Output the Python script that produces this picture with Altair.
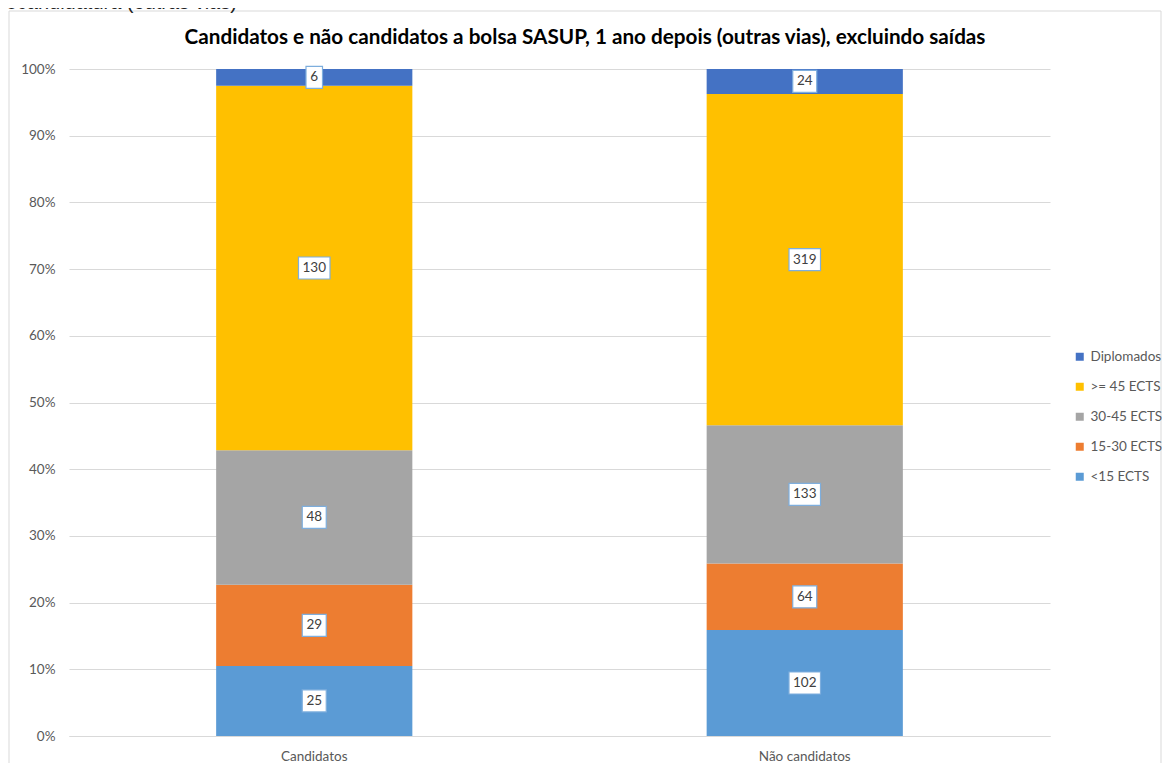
import altair as alt
import pandas as pd

categories = ["Candidatos", "Não candidatos"]
series = ["<15 ECTS", "15-30 ECTS", "30-45 ECTS", ">= 45 ECTS", "Diplomados"]
candidatos = [25, 29, 48, 130, 6]
nao_candidatos = [102, 64, 133, 319, 24]
colors = ["#5B9BD5", "#ED7D31", "#A5A5A5", "#FFC000", "#4472C4"]
y_ticks = [0, 0.1, 0.2, 0.3, 0.4, 0.5, 0.6, 0.7, 0.8, 0.9, 1.0]
title_text = "Candidatos e não candidatos a bolsa SASUP, 1 ano depois (outras vias), excluindo saídas"
top_text = "recandidatura (outras vias)"

rows = []
for cat, vals in zip(categories, [candidatos, nao_candidatos]):
    for i, (s, v) in enumerate(zip(series, vals)):
        rows.append({"cat": cat, "series": s, "value": v, "order": i})
df = pd.DataFrame(rows)

GRID = "#d9d9d9"
LABEL = "#595959"

base = alt.Chart(df).transform_stack(
    stack="value", groupby=["cat"], as_=["y0", "y1"], offset="normalize",
    sort=[alt.SortField("order", order="ascending")]
).transform_calculate(
    mid="(datum.y0 + datum.y1) / 2",
    w="7.5 * length(toString(datum.value)) + 9",
).transform_calculate(
    box="'M' + (-datum.w/2) + ',-11h' + datum.w + 'v22h' + (-datum.w) + 'z'"
)

x_enc = alt.X(
    "cat:N", sort=categories, title=None,
    scale=alt.Scale(paddingInner=0.6, paddingOuter=0.3),
    axis=alt.Axis(labelAngle=0, ticks=False, domain=True, domainColor=GRID,
                  labelFont="Lato", labelFontSize=13.5, labelColor=LABEL,
                  labelPadding=13),
)
y_scale = alt.Scale(domain=[0, 1])

bars = base.mark_bar().encode(
    x=x_enc,
    y=alt.Y("y0:Q", scale=y_scale, title=None,
            axis=alt.Axis(values=y_ticks, format=".0%", grid=True, gridColor=GRID,
                          domain=False, ticks=False, labelPadding=14,
                          labelFont="Lato", labelFontSize=13.5, labelColor=LABEL)),
    y2="y1:Q",
    color=alt.Color(
        "series:N",
        scale=alt.Scale(domain=series[::-1], range=colors[::-1]),
        legend=alt.Legend(title=None, orient="none", legendX=1004, legendY=281,
                          symbolType="square", symbolSize=64, symbolStrokeWidth=0,
                          labelFont="Lato", labelFontSize=13.5, labelColor=LABEL,
                          rowPadding=15, labelOffset=4),
    ),
)

boxes = base.mark_point(filled=True, fill="white", stroke="#7EAEDD", strokeWidth=1.2,
                        size=4, opacity=1, fillOpacity=1).encode(
    x=alt.X("cat:N", sort=categories),
    y=alt.Y("mid:Q", scale=y_scale),
    shape=alt.Shape("box:N", scale=None),
)

labels = base.mark_text(font="Lato", fontSize=13.5, color="#404040", baseline="middle").encode(
    x=alt.X("cat:N", sort=categories),
    y=alt.Y("mid:Q", scale=y_scale),
    text="value:Q",
)

one = pd.DataFrame({"t": [title_text], "u": [top_text]})

frame = alt.Chart(one).mark_rect(fillOpacity=0, stroke=GRID, strokeWidth=1).encode(
    x=alt.value(-60), x2=alt.value(1092), y=alt.value(-58), y2=alt.value(720)
)

title = alt.Chart(one).mark_text(font="Lato", fontSize=20.7, fontWeight="bold",
                                 color="#000000", align="center",
                                 baseline="alphabetic").encode(
    text="t:N", x=alt.value(516), y=alt.value(-25)
)

top = alt.Chart(one).mark_text(font="Liberation Sans", fontSize=20, color="#222222",
                               align="left", baseline="alphabetic").encode(
    text="u:N", x=alt.value(-70), y=alt.value(-60)
)

chart = alt.layer(frame, bars, boxes, labels, title, top).properties(
    width=981, height=667,
    autosize=alt.AutoSizeParams(type="none"),
    padding={"left": 61, "top": 61, "right": 112, "bottom": 27},
    background="white",
).configure_view(stroke=None)

chart.save("out.html", embed_options={"renderer": "svg", "actions": False})
